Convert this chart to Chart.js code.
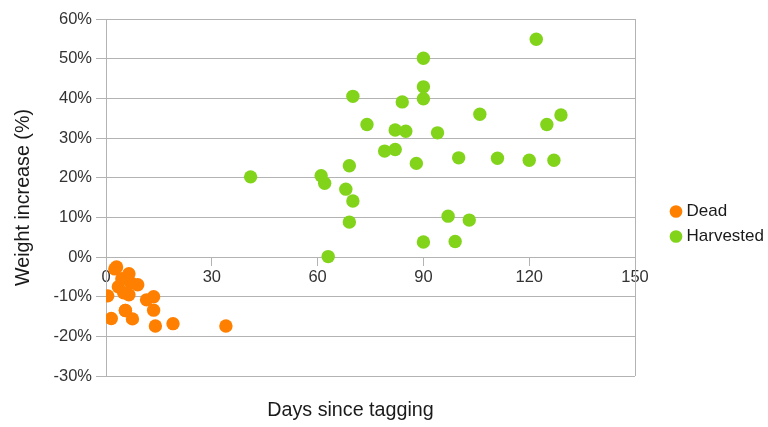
<!DOCTYPE html>
<html>
<head>
<meta charset="utf-8">
<script src="https://cdn.jsdelivr.net/npm/chart.js@4/dist/chart.umd.min.js"></script>
<style>
  html, body { margin: 0; padding: 0; background: #fff; }
  #wrap { width: 768px; height: 427px; }
</style>
</head>
<body>
<div id="wrap"><canvas id="c" width="768" height="427"></canvas></div>
<script>
// Fish that died before harvest: days since tagging vs weight change (%)
const deadDays = [0.5, 1.5, 2.5, 3.0, 3.5, 4.5, 5.0, 5.5, 6.5, 6.5, 7.0, 9.0, 5.5, 7.5, 11.5, 13.5, 13.5, 14.0, 19.0, 34.0];
const deadGain = [-9.8, -15.5, -3.0, -2.5, -7.5, -5.5, -9.0, -13.5, -4.2, -9.5, -6.5, -7.0, -13.5, -15.6, -10.8, -10.0, -13.4, -17.4, -16.8, -17.4];

// Harvested fish: days since tagging vs weight change (%)
const harvDays = [41, 61, 62, 63, 68, 69, 70, 69, 70, 74, 79, 82, 82, 85, 84, 88, 90, 90, 90, 90, 94, 106, 100, 111, 120, 127, 122, 125, 129, 97, 103, 99];
const harvGain = [20.2, 20.5, 18.6, 0.1, 17.1, 23.0, 14.1, 8.8, 40.5, 33.4, 26.7, 27.1, 32.0, 31.7, 39.1, 23.6, 50.1, 42.9, 39.9, 3.8, 31.3, 36.0, 25.0, 24.9, 24.4, 24.4, 54.9, 33.4, 35.8, 10.3, 9.3, 3.9];

const xTickValues = [0, 30, 60, 90, 120, 150];
const yTickValues = [-30, -20, -10, 0, 10, 20, 30, 40, 50, 60];

const seriesNames = ['Dead', 'Harvested'];
const seriesColors = ['#ff8000', '#81d41a'];

const toPoints = (xs, ys) => xs.map((x, i) => ({ x: x, y: ys[i] }));

const FONT = 'Liberation Sans, Arial, sans-serif';
const GRID = '#b3b3b3';
const TEXT = '#1a1a1a';

// Legend placement: first marker centre and vertical middle of the legend block
const LEGEND_MARKER_X = 676;
const LEGEND_MIDDLE_Y = 224;

// Moves the legend block to the right of the plot frame
const legendPlacement = {
  id: 'legendPlacement',
  afterLayout(chart) {
    const lg = chart.legend;
    if (!lg) return;
    const pad = lg.options.labels.padding;
    const bw = lg.options.labels.boxWidth;
    const dx = LEGEND_MARKER_X - (lg.left + pad + bw / 2);
    const dy = LEGEND_MIDDLE_Y - (lg.top + lg.bottom) / 2;
    lg.left += dx; lg.right += dx;
    lg.top += dy; lg.bottom += dy;
  }
};

// Right edge of the plot frame and the x-axis caption under the plot
const framePlugin = {
  id: 'frame',
  afterDraw(chart) {
    const { ctx, chartArea: a } = chart;
    ctx.save();
    ctx.strokeStyle = GRID;
    ctx.lineWidth = 1;
    ctx.beginPath();
    ctx.moveTo(Math.round(a.right) + 0.5, a.top);
    ctx.lineTo(Math.round(a.right) + 0.5, a.bottom);
    ctx.stroke();
    ctx.fillStyle = TEXT;
    ctx.font = '19.7px ' + FONT;
    ctx.textAlign = 'center';
    ctx.textBaseline = 'middle';
    ctx.fillText('Days since tagging', 350.5, 411);
    ctx.restore();
  }
};

new Chart(document.getElementById('c'), {
  type: 'scatter',
  data: {
    datasets: [
      {
        label: seriesNames[0],
        data: toPoints(deadDays, deadGain),
        backgroundColor: seriesColors[0],
        borderWidth: 0,
        pointRadius: 6.7,
        pointHoverRadius: 6.7
      },
      {
        label: seriesNames[1],
        data: toPoints(harvDays, harvGain),
        backgroundColor: seriesColors[1],
        borderWidth: 0,
        pointRadius: 6.7,
        pointHoverRadius: 6.7
      }
    ]
  },
  options: {
    responsive: false,
    animation: false,
    events: [],
    layout: { padding: { top: 19, right: 25, bottom: 51, left: 0 } },
    plugins: {
      tooltip: { enabled: false },
      legend: {
        position: 'right',
        labels: {
          usePointStyle: true,
          pointStyle: 'circle',
          boxWidth: 4,
          boxHeight: 9,
          padding: 8,
          color: TEXT,
          font: { family: FONT, size: 17 }
        }
      }
    },
    scales: {
      x: {
        type: 'linear',
        position: { y: 0 },
        min: 0,
        max: 150,
        afterBuildTicks(s) { s.ticks = xTickValues.map(v => ({ value: v })); },
        ticks: { color: '#333', font: { family: FONT, size: 16.5 }, padding: 3 },
        grid: { drawOnChartArea: false, drawTicks: true, tickLength: 8, color: GRID },
        border: { display: true, color: GRID }
      },
      y: {
        type: 'linear',
        min: -30,
        max: 60,
        afterBuildTicks(s) { s.ticks = yTickValues.map(v => ({ value: v })); },
        afterFit(s) { s.width = 106; },
        ticks: {
          color: '#333',
          font: { family: FONT, size: 16.5 },
          padding: 4,
          callback: v => v + '%'
        },
        grid: { color: GRID, tickLength: 10 },
        border: { display: true, color: GRID },
        title: {
          display: true,
          text: 'Weight increase (%)',
          color: TEXT,
          font: { family: FONT, size: 19.7 },
          padding: { top: 12, bottom: 0 }
        }
      }
    }
  },
  plugins: [legendPlacement, framePlugin]
});
</script>
</body>
</html>
